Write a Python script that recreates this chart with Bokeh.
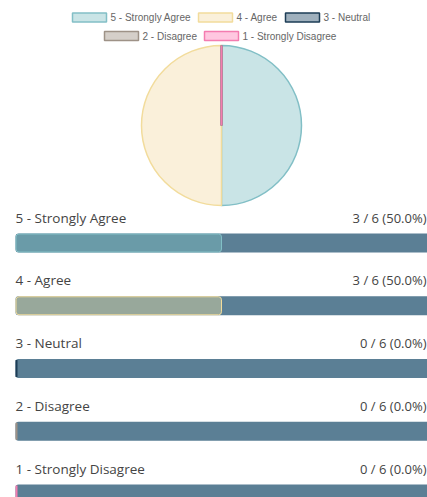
import math
from bokeh.plotting import figure
from bokeh.models import Range1d
from bokeh.core.properties import value
from bokeh.embed import file_html
from bokeh.resources import INLINE

# ---- data ----
categories = ["5 - Strongly Agree", "4 - Agree", "3 - Neutral", "2 - Disagree", "1 - Strongly Disagree"]
counts = [3, 3, 0, 0, 0]
total = 6
fill_colors = ["#c9e4e6", "#faf0da", "#9fb0bd", "#d5cfc9", "#ffc7e0"]
border_colors = ["#82bfc6", "#f2dc9c", "#1d3d56", "#9e9287", "#f47cb0"]
bar_fill_colors = ["#6a9ba8", "#98a89b", "#5b7f95", "#5b7f95", "#5b7f95"]

W, H = 427, 497
p = figure(width=W, height=H, output_backend="svg", toolbar_location=None,
           x_range=Range1d(0, W), y_range=Range1d(H, 0),
           min_border=0, outline_line_color=None, background_fill_color="white")
p.axis.visible = False
p.grid.visible = False

# ---- legend ----
legend_font = value("Liberation Sans")
rows = [[0, 1, 2], [3, 4]]
row_y = [17, 35.5]
row_x = [[72, 198, 285], [104, 204]]
for r, idxs in enumerate(rows):
    for k, i in enumerate(idxs):
        x0 = row_x[r][k]
        p.quad(left=[x0], right=[x0 + 34], top=[row_y[r] - 4.5], bottom=[row_y[r] + 4.5],
               fill_color=fill_colors[i], line_color=border_colors[i], line_width=1.5)
        p.text(x=[x0 + 38], y=[row_y[r]], text=[categories[i]], text_font=legend_font,
               text_font_size="10px", text_color="#666666", text_baseline="middle",
               text_align="left")

# ---- pie ----
cx, cy, R = 221, 125, 80
cum = 0
starts, ends = [], []
for c in counts:
    a0 = math.pi / 2 - 2 * math.pi * cum / total
    cum += c
    a1 = math.pi / 2 - 2 * math.pi * cum / total
    starts.append(a0)
    ends.append(a1)
for i, c in enumerate(counts):
    if c > 0:
        p.wedge(x=[cx], y=[cy], radius=R, start_angle=[starts[i]], end_angle=[ends[i]],
                direction="clock", fill_color=fill_colors[i], line_color=border_colors[i],
                line_width=1.5)
    else:
        a = starts[i]
        p.segment(x0=[cx], y0=[cy], x1=[cx + R * math.cos(a)], y1=[cy - R * math.sin(a)],
                  line_color=border_colors[i], line_width=2)

# ---- bars ----
label_font = value("Open Sans")
bar_left, bar_right = 15, 427
bar_h = 19
for i, cat in enumerate(categories):
    top = 233 + 62.75 * i
    ly = top - 16
    pct = 100.0 * counts[i] / total
    p.text(x=[bar_left], y=[ly], text=[cat], text_font=label_font, text_font_size="13.5px",
           text_color="#444444", text_baseline="middle", text_align="left")
    p.text(x=[426], y=[ly], text=[f"{counts[i]} / {total} ({pct:.1f}%)"], text_font=label_font,
           text_font_size="13px", text_color="#444444", text_baseline="middle", text_align="right")
    p.quad(left=[bar_left], right=[bar_right + 4], top=[top], bottom=[top + bar_h],
           fill_color="#5b7f95", line_color=None, border_radius=3)
    fill_right = bar_left + (bar_right - bar_left) * counts[i] / total
    if counts[i] > 0:
        p.quad(left=[bar_left + 0.5], right=[fill_right], top=[top + 0.5], bottom=[top + bar_h - 0.5],
               fill_color=bar_fill_colors[i], line_color=border_colors[i], line_width=1,
               border_radius=3)
    else:
        p.segment(x0=[bar_left + 1], y0=[top + 1], x1=[bar_left + 1], y1=[top + bar_h - 1],
                  line_color=border_colors[i], line_width=2)

open("out.html", "w").write(file_html(p, INLINE))
